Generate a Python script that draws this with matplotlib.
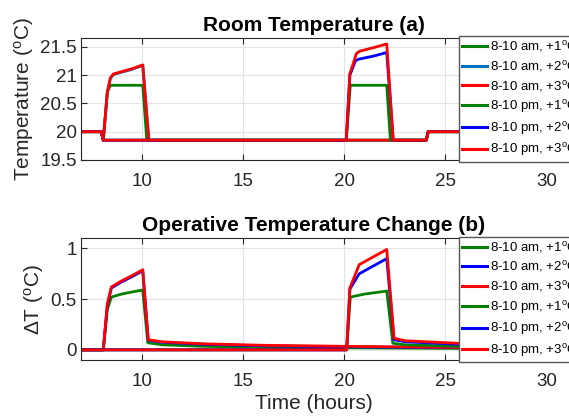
import matplotlib
matplotlib.use("Agg")
import matplotlib.pyplot as plt

plt.rcParams['font.family'] = ['Liberation Sans', 'DejaVu Sans']
plt.rcParams['mathtext.fontset'] = 'custom'
plt.rcParams['mathtext.rm'] = 'Liberation Sans'
plt.rcParams['mathtext.it'] = 'Liberation Sans:italic'

# ---------------- data: Room Temperature (a) ----------------
ta_am1 = [7, 8.0, 8.1, 8.3, 8.45, 10.05, 10.25, 24.05, 24.15, 30]
va_am1 = [20, 20, 19.85, 20.7, 20.82, 20.82, 19.85, 19.85, 20.0, 20.0]
ta_am2 = [7, 8.0, 8.1, 8.3, 8.45, 8.6, 9.0, 9.5, 10.05, 10.35, 24.05, 24.15, 30]
va_am2 = [20, 20, 19.85, 20.69, 20.94, 21.01, 21.05, 21.10, 21.17, 19.85, 19.85, 20.0, 20.0]
ta_am3 = [7, 8.0, 8.1, 8.3, 8.45, 8.6, 9.0, 9.5, 10.05, 10.35, 24.05, 24.15, 30]
va_am3 = [20, 20, 19.85, 20.7, 20.95, 21.02, 21.06, 21.11, 21.18, 19.85, 19.85, 20.0, 20.0]
ta_pm1 = [7, 8.0, 8.1, 20.1, 20.3, 22.1, 22.28, 24.05, 24.15, 30]
va_pm1 = [20, 20, 19.85, 19.85, 20.82, 20.82, 19.85, 19.85, 20.0, 20.0]
ta_pm2 = [7, 8.0, 8.1, 20.1, 20.28, 20.55, 20.7, 21.5, 22.1, 22.42, 24.05, 24.15, 30]
va_pm2 = [20, 20, 19.85, 19.85, 21.0, 21.25, 21.28, 21.34, 21.40, 19.85, 19.85, 20.0, 20.0]
ta_pm3 = [7, 8.0, 8.1, 20.1, 20.28, 20.35, 20.6, 20.75, 21.5, 22.1, 22.42, 24.05, 24.15, 30]
va_pm3 = [20, 20, 19.85, 19.85, 21.03, 21.1, 21.38, 21.42, 21.49, 21.55, 19.85, 19.85, 20.0, 20.0]

# ---------------- data: Operative Temperature Change (b) ----------------
tb_am1 = [7, 8.1, 8.3, 8.5, 9.0, 9.5, 10.05, 10.3, 11, 13, 16, 20, 25, 30]
vb_am1 = [0, 0, 0.4, 0.52, 0.55, 0.57, 0.59, 0.07, 0.05, 0.035, 0.025, 0.02, 0.015, 0.01]
tb_am2 = [7, 8.1, 8.3, 8.5, 9.0, 9.5, 10.05, 10.32, 11, 13, 16, 20, 25, 30]
vb_am2 = [0, 0, 0.44, 0.61, 0.67, 0.72, 0.78, 0.095, 0.075, 0.055, 0.04, 0.03, 0.022, 0.018]
tb_am3 = [7, 8.1, 8.3, 8.5, 9.0, 9.5, 10.05, 10.32, 11, 13, 16, 20, 25, 30]
vb_am3 = [0, 0, 0.45, 0.62, 0.68, 0.73, 0.79, 0.10, 0.08, 0.06, 0.045, 0.035, 0.025, 0.02]
tb_pm1 = [7, 20.12, 20.3, 21.0, 22.1, 22.4, 23, 25.6, 30]
vb_pm1 = [0, 0, 0.52, 0.55, 0.58, 0.065, 0.05, 0.035, 0.025]
tb_pm2 = [7, 20.12, 20.28, 20.74, 22.1, 22.46, 23, 25.6, 30]
vb_pm2 = [0, 0, 0.6, 0.75, 0.90, 0.10, 0.08, 0.055, 0.04]
tb_pm3 = [7, 20.12, 20.28, 20.74, 22.1, 22.46, 23, 25.6, 30]
vb_pm3 = [0, 0, 0.61, 0.84, 0.99, 0.115, 0.09, 0.065, 0.05]

labels = [r'8-10 am, +1$^\mathrm{o}$C', r'8-10 am, +2$^\mathrm{o}$C', r'8-10 am, +3$^\mathrm{o}$C',
          r'8-10 pm, +1$^\mathrm{o}$C', r'8-10 pm, +2$^\mathrm{o}$C', r'8-10 pm, +3$^\mathrm{o}$C']
colors_a = ['#008000', '#0072BD', '#FF0000', '#008000', '#0000FF', '#FF0000']
colors_b = ['#008000', '#0000FF', '#FF0000', '#008000', '#0000FF', '#FF0000']

xticks = [10, 15, 20, 25, 30]
yticks_a = [19.5, 20, 20.5, 21, 21.5]
yticks_b = [0, 0.5, 1]

W, H = 569, 417
fig = plt.figure(figsize=(W / 100, H / 100), dpi=100)

left = 81 / W
width = (546.7 - 81) / W
ax_a = fig.add_axes([left, 1 - 160 / H, width, (160 - 38.3) / H])
ax_b = fig.add_axes([left, 1 - 360 / H, width, (360 - 238.3) / H])

series_a = [(ta_am1, va_am1), (ta_am2, va_am2), (ta_am3, va_am3),
            (ta_pm1, va_pm1), (ta_pm2, va_pm2), (ta_pm3, va_pm3)]
series_b = [(tb_am1, vb_am1), (tb_am2, vb_am2), (tb_am3, vb_am3),
            (tb_pm1, vb_pm1), (tb_pm2, vb_pm2), (tb_pm3, vb_pm3)]

txt = '#262626'

def style(ax, yticks, ylim, title, ylabel):
    ax.set_xlim(7, 30)
    ax.set_ylim(*ylim)
    ax.set_xticks(xticks)
    ax.set_yticks(yticks)
    ax.set_yticklabels([('%g' % v) for v in yticks])
    ax.grid(True, color='#e3e3e3', linewidth=0.8)
    ax.set_axisbelow(True)
    ax.tick_params(direction='in', length=4, width=0.8, colors=txt, labelsize=13.5,
                   top=True, right=True)
    ax.tick_params(axis='x', pad=9)
    ax.tick_params(axis='y', pad=3)
    for s in ax.spines.values():
        s.set_color(txt)
        s.set_linewidth(0.8)
    ax.set_title(title, fontsize=15, fontweight='bold', color='black', pad=5)
    ax.set_ylabel(ylabel, fontsize=15, color=txt, labelpad=3)

for (t, v), c, lab in zip(series_a, colors_a, labels):
    ax_a.plot(t, v, color=c, lw=2.0, label=lab)
for (t, v), c, lab in zip(series_b, colors_b, labels):
    ax_b.plot(t, v, color=c, lw=2.0, label=lab)

style(ax_a, yticks_a, (19.5, 21.65), 'Room Temperature (a)', r'Temperature ($^\mathrm{o}$C)')
style(ax_b, yticks_b, (-0.1, 1.1), 'Operative Temperature Change (b)', r'$\Delta$T ($^\mathrm{o}$C)')
ax_b.set_xlabel('Time (hours)', fontsize=15, color=txt, labelpad=3)

for ax, ytop in [(ax_a, 36.0), (ax_b, 236.5)]:
    leg = ax.legend(loc='upper left', bbox_to_anchor=(458.5 / W, 1 - ytop / H),
                    bbox_transform=fig.transFigure, fontsize=9.5, frameon=True,
                    fancybox=False, framealpha=1, edgecolor='#555555',
                    borderaxespad=0, borderpad=0.25, handlelength=1.9,
                    handletextpad=0.2, labelspacing=0.35)
    leg.get_frame().set_linewidth(1.0)
    for line in leg.get_lines():
        line.set_linewidth(2.2)

fig.savefig('out.png', dpi=100)
